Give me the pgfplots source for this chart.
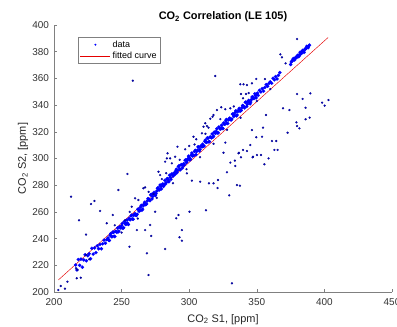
\documentclass[border=0pt]{standalone}
\usepackage{fontspec}
\setmainfont{Liberation Sans}
\usepackage{pgfplots}
\usepackage{pgfplotstable}
\pgfplotsset{compat=1.18}
\pgfplotsset{
  dotleg/.style={legend image code/.code={\draw[##1, mark size=0.9bp] plot coordinates {(15bp,0bp)};}},
  lineleg/.style={legend image code/.code={\draw[##1] (0bp,0bp) -- (30bp,0bp);}},
}

\pgfplotstableread{
x y
216 220.2
217 216.5
218 224.3
219 220.0
220 224.6
221 218.6
222 224.1
223 227.9
224 223.4
225 227.2
226 228.6
227 224.9
228 232.7
229 228.4
230 233.0
231 229.5
232 234.6
233 232.4
234 235.6
235 232.4
236 236.1
237 238.8
238 236.5
239 239.2
240 240.5
241 238.6
242 243.7
243 241.5
244 244.7
245 241.5
246 245.2
247 247.9
248 245.6
249 248.3
250 249.6
251 247.7
252 252.8
253 250.6
254 253.8
255 250.6
256 254.3
257 257.0
258 254.7
259 257.4
260 258.7
261 257.3
262 261.9
263 260.4
264 263.5
265 261.2
266 264.6
267 267.2
268 265.6
269 268.2
270 269.6
271 268.4
272 273.1
273 271.6
274 274.6
275 272.3
276 275.6
277 278.2
278 276.5
279 279.0
280 280.3
281 279.1
282 283.6
283 282.0
284 285.0
285 282.6
286 285.9
287 288.4
288 286.8
289 289.3
290 290.6
291 289.4
292 293.9
293 292.3
294 295.2
295 292.9
296 296.2
297 298.7
298 297.0
299 299.6
300 300.9
301 299.6
302 304.1
303 302.4
304 305.3
305 302.9
306 306.2
307 308.6
308 306.9
309 309.4
310 310.7
311 309.4
312 313.8
313 312.2
314 315.1
315 312.7
316 315.9
317 318.4
318 316.7
319 319.2
320 320.4
321 319.1
322 323.6
323 322.0
324 324.9
325 322.4
326 325.7
327 328.2
328 326.5
329 328.9
330 330.2
331 328.8
332 333.2
333 331.5
334 334.4
335 331.9
336 335.1
337 337.5
338 335.7
339 338.1
340 339.3
341 337.9
342 342.3
343 340.6
344 343.5
345 341.0
346 344.1
347 346.2
348 345.0
349 347.1
350 348.3
351 347.3
352 351.0
353 349.9
354 352.3
355 350.5
356 353.2
357 355.3
358 354.1
359 356.2
360 357.4
361 356.4
362 360.1
363 359.0
364 361.4
365 359.6
366 362.3
367 364.4
375 370.4
375.5 372.3
376 372.9
376.5 373.7
377 374.9
377.5 373.8
378 373.9
378.5 375.5
379 375.8
379.5 375.6
380 377.0
380.5 377.5
381 376.3
381.5 377.2
382 379.6
382.5 378.6
383 378.7
383.5 380.3
384 381.0
384.5 380.2
385 379.5
385.5 381.8
386 382.0
386.5 382.7
387 384.0
387.5 383.2
388 383.0
388.5 384.5
389 384.9
240.5 238.8
241.5 242.5
242.5 241.5
243.5 244.9
244.5 241.8
245.5 245.4
246.5 244.7
247.5 245.1
248.5 248.8
249.5 247.9
250.5 251.3
251.5 248.2
252.5 251.8
253.5 251.1
254.5 251.5
255.5 255.2
256.5 254.2
257.5 257.6
258.5 254.5
259.5 258.2
260.5 257.6
261.5 258.2
262.5 262.1
263.5 261.3
264.5 264.9
265.5 262.0
266.5 265.8
267.5 265.4
268.5 266.0
269.5 269.9
270.5 269.1
271.5 272.7
272.5 269.8
273.5 273.6
274.5 273.1
275.5 273.7
276.5 277.6
277.5 276.7
278.5 280.2
279.5 277.2
280.5 281.0
281.5 280.4
282.5 280.9
283.5 284.7
284.5 283.9
285.5 287.4
286.5 284.4
287.5 288.2
288.5 287.6
289.5 288.1
290.5 291.9
291.5 291.1
292.5 294.6
293.5 291.6
294.5 295.4
295.5 294.8
296.5 295.3
297.5 299.1
298.5 298.3
299.5 301.8
300.5 298.8
301.5 302.5
302.5 301.8
303.5 302.3
304.5 306.1
305.5 305.2
306.5 308.7
307.5 305.6
308.5 309.3
309.5 308.7
310.5 309.2
311.5 312.9
312.5 312.0
313.5 315.5
314.5 312.5
315.5 316.2
316.5 315.5
317.5 316.0
318.5 319.8
319.5 318.9
320.5 322.3
321.5 319.3
322.5 323.0
323.5 322.4
324.5 322.8
325.5 326.6
326.5 325.7
327.5 329.2
328.5 326.2
329.5 329.8
330.5 329.2
331.5 329.6
332.5 333.3
333.5 332.3
334.5 335.7
335.5 332.6
336.5 336.2
337.5 335.5
338.5 336.0
339.5 339.7
340.5 338.7
341.5 342.1
342.5 339.0
343.5 342.6
344.5 341.9
345.5 342.3
346.5 346.0
347.5 345.0
348.5 348.5
349.5 345.4
350.5 349.0
}\banddata

\pgfplotstableread{
x y
258.3 358.3
319.3 361.8
379.8 389.5
367.4 378.0
368.6 375.8
371.3 371.3
337.8 355.6
340.2 355.6
342.7 355.0
346.4 356.3
349.6 359.6
338.3 348.3
342.0 348.3
339.8 345.1
323.7 338.4
326.7 336.9
330.4 337.6
320.5 336.3
317.3 331.3
315.6 329.8
318.0 332.6
311.9 326.4
313.1 324.3
314.3 323.1
310.6 323.8
303.2 316.3
305.2 314.4
300.0 309.4
297.0 306.9
291.3 308.8
289.6 301.3
283.5 300.1
284.0 303.9
282.2 297.6
287.2 296.4
277.3 290.1
278.5 287.6
254.3 288.4
247.6 276.4
267.4 278.4
273.6 273.4
260.0 270.2
262.4 268.9
257.5 263.9
212.6 271.4
227.4 265.9
229.9 268.2
234.1 260.7
218.5 253.7
223.7 243.0
239.0 251.5
243.5 257.7
252.6 253.9
285.9 300.1
309.4 318.9
266.1 277.7
279.8 284.6
335.3 280.1
336.5 303.9
379.8 348.3
383.9 344.6
389.6 348.8
398.3 341.8
400.2 339.6
403.0 343.8
369.4 337.6
374.1 336.3
386.1 338.0
379.3 327.1
379.8 324.3
381.5 322.6
386.1 329.4
389.1 330.6
372.8 319.3
356.8 332.6
346.4 321.3
354.6 323.1
353.9 316.3
349.6 315.9
326.7 311.9
361.2 313.1
364.4 313.1
363.0 306.4
365.4 306.4
345.2 310.1
339.8 306.4
353.1 302.6
358.7 300.1
347.2 301.3
325.4 304.3
330.4 296.9
333.8 298.4
334.1 294.4
336.8 304.3
338.3 300.9
342.7 305.6
346.9 300.9
350.1 302.6
355.6 295.7
327.9 289.7
314.6 281.4
318.0 281.4
321.3 283.9
321.0 277.9
337.5 279.6
329.6 272.4
312.4 261.2
331.6 206.5
308.1 282.6
302.0 283.4
298.3 288.9
300.2 260.1
290.4 255.2
292.1 257.7
294.6 246.4
292.8 241.0
294.6 238.4
282.2 232.2
274.8 260.1
271.1 250.2
271.9 242.0
269.9 212.7
268.7 229.0
267.4 246.4
261.3 246.4
255.8 233.9
203.2 201.5
205.0 204.5
208.1 202.5
209.9 207.7
216.3 217.8
217.3 216.5
216.8 210.3
219.8 210.7
223.7 227.7
226.1 224.5
245 250.0
250 244.5
256 260.0
262 255.0
270 275.0
276 270.5
283 289.0
288 281.5
293 299.0
298 292.0
304 310.5
308 301.0
312 318.5
318 311.0
323 329.5
328 321.5
333 339.0
338 330.5
344 349.0
350 343.0
356 359.5
360 352.0
}\outdata

\begin{document}
\begin{tikzpicture}
\useasboundingbox (0,0) rectangle (397bp,327bp);
\begin{axis}[
  at={(54bp,35bp)}, anchor=south west,
  scale only axis, width=338bp, height=267bp,
  xmin=200, xmax=450, ymin=200, ymax=400,
  xtick={200,250,...,450}, ytick={200,220,...,400},
  axis x line=bottom, axis y line=left,
  axis line style={-, black!50},
  tick align=inside, major tick length=3bp,
  tick style={black!50, line width=0.4bp},
  /pgf/number format/assume math mode=true,
  /pgf/number format/1000 sep={},
  tick label style={font=\fontsize{10}{12}\selectfont, text=black!80},
  xticklabel style={yshift=-3.5bp},
  yticklabel style={xshift=-1.5bp},
  every axis title/.style={at={(axis description cs:0.5,1)}, anchor=base, yshift=5.5bp,
    font=\bfseries\fontsize{11}{13}\selectfont},
  every axis x label/.style={at={(axis description cs:0.5,0)}, anchor=base, yshift=-30bp,
    font=\fontsize{11}{13}\selectfont, text=black!85},
  every axis y label/.style={at={(axis description cs:0,0.5)}, xshift=-28bp, rotate=90, anchor=base,
    font=\fontsize{11}{13}\selectfont, text=black!85},
  title={CO\textsubscript{2} Correlation (LE 105)},
  xlabel={CO\textsubscript{2} S1, [ppm]},
  ylabel={CO\textsubscript{2} S2, [ppm]},
  legend style={at={(0.071,0.955)}, anchor=north west, draw=black!50, fill=white,
    font=\fontsize{9}{10}\selectfont, inner xsep=2bp, inner ysep=1.5bp, row sep=-0.5bp,
    cells={anchor=west}},
]
\addplot[only marks, mark=*, mark size=1.7bp, mark options={fill=blue, draw=blue, line width=0.1bp}, dotleg]
  table[x=x,y=y] {\banddata};
\addlegendentry{data}
\addplot[only marks, mark=*, mark size=1.05bp, mark options={fill=blue!80!black, draw=blue!45!black, line width=0.15bp}, forget plot]
  table[x=x,y=y] {\outdata};
\addplot[red!90!black, line width=0.45bp, lineleg]
  coordinates {(203.2,209.0) (402.7,390.6)};
\addlegendentry{fitted curve}
\end{axis}
\end{tikzpicture}
\end{document}
